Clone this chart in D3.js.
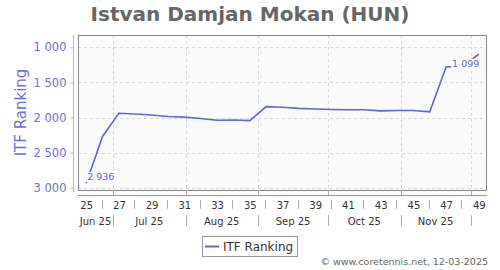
<!DOCTYPE html>
<html><head><meta charset="utf-8">
<script src="https://cdn.jsdelivr.net/npm/d3@7"></script>
<style>body{margin:0;background:#fff}svg{display:block}text{font-family:"DejaVu Sans",sans-serif}</style>
</head><body><svg id="c" width="500" height="270"></svg>
<script>
const title = "Istvan Damjan Mokan (HUN)";
const weeks = [25,26,27,28,29,30,31,32,33,34,35,36,37,38,39,40,41,42,43,44,45,46,47,48,49];
const ranks = [2936,2270,1940,1950,1965,1985,1995,2015,2040,2035,2045,1845,1855,1870,1878,1885,1890,1890,1905,1900,1900,1920,1280,1268,1099];
const yTicks = [1000,1500,2000,2500,3000];
const weekLabels = [25,27,29,31,33,35,37,39,41,43,45,47,49];
const months = ["Jun 25","Jul 25","Aug 25","Sep 25","Oct 25","Nov 25"];
const seriesName = "ITF Ranking";
const credit = "\u00a9 www.coretennis.net, 12-03-2025";

const svg = d3.select("#c");
const L=78,R=487,T=35,B=190;
const DAY=86400000;
const wk1 = Date.UTC(2024,11,30);
const weekMid = w => new Date(wk1 + ((w-1)*7+3.5)*DAY);
const x = d3.scaleUtc().domain([new Date(Date.UTC(2025,5,16)), new Date(Date.UTC(2025,11,8))]).range([L,R]);
const y = d3.scaleLinear().domain([1000,3000]).range([47.3,187.7]);
const col="#6464cf", txtCol="#6e6ed2";
const fmt = v => d3.format(",")(v).replace(/,/g," ");

svg.append("text").attr("x",250).attr("y",21).attr("text-anchor","middle")
  .attr("font-size",20).attr("font-weight","bold").attr("fill","#666").text(title);

// plot bg
svg.append("rect").attr("x",L).attr("y",T).attr("width",R-L).attr("height",B-T).attr("fill","#fafafa");
// grid
const monthStarts = d3.utcMonth.range(new Date(Date.UTC(2025,6,1)), new Date(Date.UTC(2025,11,2)));
svg.append("g").selectAll("line").data(yTicks).join("line")
  .attr("x1",L).attr("x2",R).attr("y1",d=>Math.round(y(d))+0.5).attr("y2",d=>Math.round(y(d))+0.5)
  .attr("stroke","#d8d8d8").attr("stroke-dasharray","3,3");
svg.append("g").selectAll("line").data(monthStarts).join("line")
  .attr("x1",d=>Math.round(x(d))+0.5).attr("x2",d=>Math.round(x(d))+0.5).attr("y1",T).attr("y2",B)
  .attr("stroke","#d8d8d8").attr("stroke-dasharray","3,3");

// line
const pts = weeks.map((w,i)=>({d:weekMid(w),v:ranks[i]}));
svg.append("path").datum(pts).attr("fill","none").attr("stroke",col).attr("stroke-width",1.6)
  .attr("d",d3.line().x(p=>x(p.d)).y(p=>y(p.v)));

// data labels
function dlabel(p, dx, dy, anchor){
  const g=svg.append("g");
  const t=g.append("text").attr("x",x(p.d)+dx).attr("y",y(p.v)+dy).attr("text-anchor",anchor)
    .attr("font-size",9.5).attr("fill",col).text(fmt(p.v));
  const bb=t.node().getBBox();
  g.insert("rect","text").attr("x",bb.x-1).attr("y",bb.y+1).attr("width",bb.width+2).attr("height",bb.height-1).attr("fill","#fafafa");
}
dlabel(pts[0],1,-3,"start");
dlabel(pts[pts.length-1],0.5,12.5,"end");

// plot border
svg.append("rect").attr("x",L+0.5).attr("y",T+0.5).attr("width",R-L-1).attr("height",B-T).attr("fill","none").attr("stroke","#888");

// y axis
const ya = svg.append("g").attr("transform","translate(73.5,0)")
  .call(d3.axisLeft(y).tickValues(yTicks).tickSize(3).tickPadding(4).tickFormat(fmt));
ya.select(".domain").attr("d","M-0,"+T+"V"+(B+2)).attr("stroke","#b4b4e2");
ya.selectAll(".tick line").attr("stroke","#b4b4e2");
ya.selectAll("text").attr("font-family","DejaVu Sans").attr("font-size",11.5).attr("fill",txtCol);
svg.append("text").attr("transform","translate(26,112.5) rotate(-90)").attr("text-anchor","middle")
  .attr("font-size",15).attr("fill",txtCol).text(seriesName);

// x axis
const xa = svg.append("g").attr("transform","translate(0,195.5)")
  .call(d3.axisBottom(x).tickValues(weekLabels.map(weekMid)).tickSize(0).tickPadding(6)
    .tickFormat((d,i)=>weekLabels[i]));
xa.select(".domain").attr("d","M"+L+",0H"+R).attr("stroke","#999");
xa.selectAll("text").attr("font-family","DejaVu Sans").attr("font-size",10).attr("fill","#333");
// separators between week labels
const evenWeeks = weekLabels.slice(0,-1).map(w=>w+1);
svg.append("g").selectAll("line").data(evenWeeks).join("line")
  .attr("x1",w=>Math.round(x(weekMid(w)))-0.5).attr("x2",w=>Math.round(x(weekMid(w)))-0.5)
  .attr("y1",200).attr("y2",209).attr("stroke","#aaa");
// month ticks between plot and axis
svg.append("g").selectAll("line").data(monthStarts).join("line")
  .attr("x1",d=>Math.round(x(d))+0.5).attr("x2",d=>Math.round(x(d))+0.5).attr("y1",B).attr("y2",195)
  .attr("stroke","#aaa");
// month row
const bounds=[x.domain()[0],...monthStarts];
svg.append("g").selectAll("text").data(months).join("text")
  .attr("x",(m,i)=>(x(bounds[i])+x(bounds[i+1]))/2).attr("y",224.5).attr("text-anchor","middle")
  .attr("font-size",10).attr("fill","#333").text(m=>m);
svg.append("g").selectAll("line").data(monthStarts).join("line")
  .attr("x1",d=>Math.round(x(d))+0.5).attr("x2",d=>Math.round(x(d))+0.5).attr("y1",215).attr("y2",226)
  .attr("stroke","#aaa");

// legend
svg.append("rect").attr("x",202.5).attr("y",236.5).attr("width",95).attr("height",20).attr("fill","#fff").attr("stroke","#999");
svg.append("line").attr("x1",205).attr("x2",219).attr("y1",246.5).attr("y2",246.5).attr("stroke",col).attr("stroke-width",2);
svg.append("text").attr("x",223).attr("y",251).attr("font-size",12).attr("fill","#333").text(seriesName);

// credit
svg.append("text").attr("x",488).attr("y",265).attr("text-anchor","end").attr("font-size",9.5).attr("fill","#666").text(credit);
</script></body></html>
